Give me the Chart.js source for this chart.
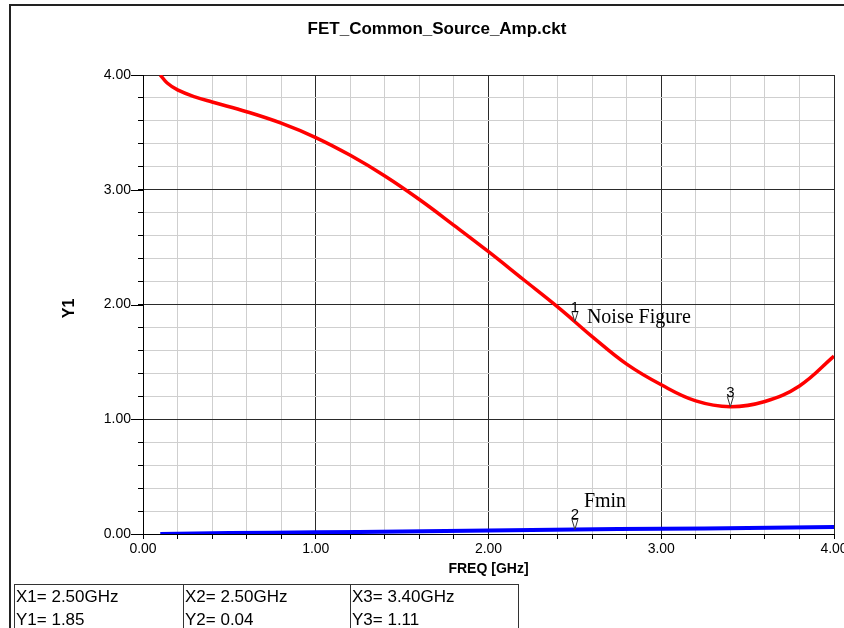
<!DOCTYPE html>
<html>
<head>
<meta charset="utf-8">
<script src="https://cdn.jsdelivr.net/npm/chart.js@4/dist/chart.umd.min.js"></script>
<style>
  html, body { margin: 0; padding: 0; background: #fff; }
  #wrap { width: 844px; height: 628px; position: relative; }
</style>
</head>
<body>
<div id="wrap"><canvas id="chart" width="844" height="628"></canvas></div>
<script>
// Noise Figure trace (red)
const nfFreq = [0.10, 0.14, 0.20, 0.30, 0.40, 0.60, 0.80, 1.00, 1.20, 1.40, 1.60, 1.80, 2.00, 2.20, 2.40, 2.50, 2.60, 2.80, 3.00, 3.20, 3.40, 3.60, 3.80, 4.00];
const nfVals = [4.00, 3.93, 3.87, 3.81, 3.765, 3.68, 3.58, 3.455, 3.30, 3.12, 2.915, 2.69, 2.46, 2.22, 1.98, 1.85, 1.72, 1.48, 1.30, 1.16, 1.11, 1.155, 1.29, 1.55];

// Fmin trace (blue)
const fminFreq = [0.10, 0.50, 1.00, 1.50, 2.00, 2.50, 3.00, 3.50, 4.00];
const fminVals = [0.00, 0.008, 0.015, 0.022, 0.03, 0.04, 0.045, 0.052, 0.06];

// markers
const markerIds = ['1', '2', '3'];
const markerFreq = [2.50, 2.50, 3.40];
const markerVals = [1.85, 0.04, 1.11];

const traceNames = ['Noise Figure', 'Fmin'];
const titleText = 'FET_Common_Source_Amp.ckt';
const xTitle = 'FREQ [GHz]';
const yTitle = 'Y1';

const SANS = "'Liberation Sans', Arial, sans-serif";
const SERIF = "'Liberation Serif', 'Times New Roman', serif";

const isMajor = v => Math.abs(v - Math.round(v)) < 1e-6;

const extras = {
    id: 'extras',
    afterDraw(chart) {
        const c = chart.ctx;
        const xs = chart.scales.x, ys = chart.scales.y;
        const area = chart.chartArea;
        c.save();

        // outer frame
        c.strokeStyle = '#222';
        c.lineWidth = 2;
        c.beginPath();
        c.moveTo(10, 628); c.lineTo(10, 5); c.lineTo(844, 5);
        c.stroke();

        // title
        c.fillStyle = '#000';
        c.font = 'bold 17px ' + SANS;
        c.textAlign = 'center';
        c.textBaseline = 'alphabetic';
        c.fillText(titleText, 437, 34);

        // axis titles
        c.font = 'bold 14px ' + SANS;
        c.fillText(xTitle, (area.left + area.right) / 2, 573);
        c.save();
        c.translate(74, (area.top + area.bottom) / 2 + 4);
        c.rotate(-Math.PI / 2);
        c.font = 'bold 16px ' + SANS;
        c.fillText(yTitle, 0, 0);
        c.restore();

        // long major ticks on y axis
        c.strokeStyle = '#000';
        c.lineWidth = 1;
        for (let v = 0; v <= 4; v++) {
            const py = Math.round(ys.getPixelForValue(v)) + 0.5;
            c.beginPath();
            c.moveTo(area.left - 12, py); c.lineTo(area.left, py);
            c.stroke();
        }

        // markers
        markerIds.forEach((id, i) => {
            const px = xs.getPixelForValue(markerFreq[i]);
            const py = ys.getPixelForValue(markerVals[i]);
            c.beginPath();
            c.moveTo(px, py);
            c.lineTo(px - 3, py - 10);
            c.lineTo(px + 3, py - 10);
            c.closePath();
            c.fillStyle = '#fff';
            c.fill();
            c.strokeStyle = '#333';
            c.lineWidth = 1;
            c.stroke();
            c.fillStyle = '#000';
            c.font = '15px ' + SANS;
            c.textAlign = 'center';
            c.fillText(id, px, py - 10);
        });

        // trace labels next to markers
        c.font = '20px ' + SERIF;
        c.textAlign = 'left';
        c.fillStyle = '#000';
        const m1x = xs.getPixelForValue(markerFreq[0]), m1y = ys.getPixelForValue(markerVals[0]);
        c.fillText(traceNames[0], m1x + 12, m1y + 1);
        const m2x = xs.getPixelForValue(markerFreq[1]), m2y = ys.getPixelForValue(markerVals[1]);
        c.fillText(traceNames[1], m2x + 9, m2y - 22);

        // marker readout table
        const cols = [14, 183, 350, 518];
        c.strokeStyle = '#333';
        c.lineWidth = 1;
        c.beginPath();
        c.moveTo(cols[0], 584.5); c.lineTo(cols[3], 584.5);
        cols.forEach(x => { c.moveTo(x + 0.5, 584); c.lineTo(x + 0.5, 628); });
        c.stroke();
        c.font = '17px ' + SANS;
        c.fillStyle = '#000';
        markerIds.forEach((id, i) => {
            c.fillText('X' + id + '= ' + markerFreq[i].toFixed(2) + 'GHz', cols[i] + 2, 602);
            c.fillText('Y' + id + '= ' + markerVals[i].toFixed(2), cols[i] + 2, 625);
        });

        c.restore();
    }
};

const gridColor = ctx => (ctx.tick && isMajor(ctx.tick.value)) ? '#2a2a2a' : '#cfcfcf';

new Chart(document.getElementById('chart'), {
    type: 'line',
    data: {
        datasets: [
            {
                label: traceNames[0],
                data: nfFreq.map((f, i) => ({ x: f, y: nfVals[i] })),
                borderColor: '#ff0000',
                borderWidth: 3.5,
                pointRadius: 0,
                tension: 0.4,
                fill: false
            },
            {
                label: traceNames[1],
                data: fminFreq.map((f, i) => ({ x: f, y: fminVals[i] })),
                borderColor: '#0000ff',
                borderWidth: 4,
                pointRadius: 0,
                tension: 0.4,
                fill: false
            }
        ]
    },
    options: {
        responsive: false,
        animation: false,
        devicePixelRatio: 1,
        layout: { padding: { left: 0, right: 10, top: 75, bottom: 0 } },
        plugins: { legend: { display: false }, tooltip: { enabled: false }, title: { display: false } },
        scales: {
            x: {
                type: 'linear', min: 0, max: 4,
                ticks: {
                    stepSize: 0.2, autoSkip: false, maxRotation: 0, padding: 2,
                    color: '#000', font: { family: SANS, size: 14 },
                    callback: v => isMajor(v) ? v.toFixed(2) : ''
                },
                grid: { color: gridColor, lineWidth: 1, tickLength: 5, tickColor: '#000' },
                border: { color: '#000', width: 1 },
                afterFit: s => { s.height = 94; s.paddingLeft = 0; s.paddingRight = 0; }
            },
            y: {
                type: 'linear', min: 0, max: 4,
                ticks: {
                    stepSize: 0.2, autoSkip: false, padding: 7,
                    color: '#000', font: { family: SANS, size: 14 },
                    callback: v => isMajor(v) ? v.toFixed(2) : ''
                },
                grid: { color: gridColor, lineWidth: 1, tickLength: 5, tickColor: '#000' },
                border: { color: '#000', width: 1 },
                afterFit: s => { s.width = 143; s.paddingTop = 0; s.paddingBottom = 0; }
            }
        }
    },
    plugins: [extras]
});
</script>
</body>
</html>
